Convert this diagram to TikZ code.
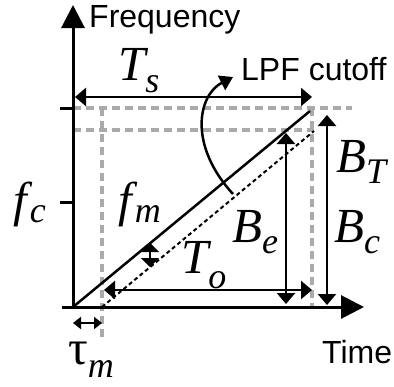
\documentclass[tikz,border=0pt]{standalone}
\usepackage{fontspec}
\setmainfont{Liberation Sans}
\newfontfamily\mfont{Liberation Serif}
\usetikzlibrary{arrows.meta}
\definecolor{guidegray}{HTML}{AAAAAA}
\newcommand\lab[3]{{\fontsize{49}{49}\selectfont\mfont\itshape #1}\raisebox{-#3}{\fontsize{36}{36}\selectfont\mfont\itshape #2}}
\begin{document}
\begin{tikzpicture}[x=1pt,y=-1pt,
  axis/.style={line width=3pt,-{Triangle[length=23pt,width=23pt]}},
  tick/.style={line width=3pt},
  dim/.style={line width=2.5pt,{Triangle[length=11pt,width=18pt]}-{Triangle[length=11pt,width=18pt]}},
  shortdim/.style={line width=2pt,{Triangle[length=9pt,width=18pt]}-{Triangle[length=9pt,width=18pt]}},
  smalldim/.style={line width=2pt,{Triangle[length=8pt,width=12pt]}-{Triangle[length=8pt,width=12pt]}},
  guide/.style={line width=3.5pt,guidegray,dash pattern=on 8pt off 5pt},
  chirp/.style={line width=2.5pt},
  echo/.style={line width=2pt,dash pattern=on 4pt off 3pt},
  pointer/.style={line width=2.5pt,-{Triangle[length=13pt,width=16pt]}},
  txt/.style={anchor=base west,inner sep=0pt,font=\fontsize{32}{32}\selectfont},
  lbl/.style={anchor=base west,inner sep=0pt}]
\useasboundingbox (0,0) rectangle (394,386);
% named coordinates
\coordinate (O) at (73,307);
\coordinate (Xl) at (62,307);
\coordinate (Xe) at (364,307);
\coordinate (Ye) at (73,5);
\coordinate (t1a) at (60,108); \coordinate (t1b) at (73,108);
\coordinate (t2a) at (60,202); \coordinate (t2b) at (73,202);
\coordinate (g1a) at (73,108); \coordinate (g1b) at (352,108);
\coordinate (g2a) at (73,130); \coordinate (g2b) at (314,130);
\coordinate (g3a) at (102,108); \coordinate (g3b) at (102,337);
\coordinate (g4a) at (312,108); \coordinate (g4b) at (312,307);
\coordinate (c1) at (310,111);
\coordinate (e0) at (102,307); \coordinate (e1) at (314,131);
\coordinate (tsa) at (75,97); \coordinate (tsb) at (312,97);
\coordinate (toa) at (104,290); \coordinate (tob) at (312,290);
\coordinate (bea) at (286,304); \coordinate (beb) at (286,133);
\coordinate (bca) at (327,305); \coordinate (bcb) at (327,115);
\coordinate (tma) at (73,323); \coordinate (tmb) at (102,323);
\coordinate (fma) at (150,243); \coordinate (fmb) at (150,267);
\coordinate (pa) at (233,194); \coordinate (pb) at (233,77);
% guides
\draw[guide] (g1a) -- (g1b);
\draw[guide] (g2a) -- (g2b);
\draw[guide] (g3a) -- (g3b);
\draw[guide] (g4a) -- (g4b);
% axes
\draw[axis] (Xl) -- (Xe);
\draw[axis] (O) -- (Ye);
\draw[tick] (t1a) -- (t1b);
\draw[tick] (t2a) -- (t2b);
% chirps
\draw[chirp] (O) -- (c1);
\draw[echo] (e0) -- (e1);
% dimensions
\draw[dim] (tsa) -- (tsb);
\draw[dim] (toa) -- (tob);
\draw[dim] (bea) -- (beb);
\draw[dim] (bca) -- (bcb);
\draw[shortdim] (fma) -- (fmb);
\draw[smalldim] (tma) -- (tmb);
\draw[pointer] (pa) .. controls (188,145) and (198,95) .. (pb);
% labels
\node[txt] (freq) at (89,27) {Frequency};
\node[txt] (lpf) at (241,80) {LPF cutoff};
\node[txt] (time) at (322,363) {Time};
\node[lbl] (Ts) at (118,80) {\lab{T}{s}{12pt}};
\node[lbl] (fc) at (13,216) {\lab{f\kern3pt}{c}{6pt}};
\node[lbl] (fm) at (118,216) {\lab{f\kern3pt}{m}{6pt}};
\node[lbl] (Be) at (232,242) {\lab{B}{e}{11pt}};
\node[lbl] (To) at (181,273) {\lab{T}{o}{15pt}};
\node[lbl] (Bc) at (334,242) {\lab{B}{c}{11pt}};
\node[lbl] (BT) at (336,172) {\lab{B}{T}{11pt}};
\node[lbl] (tm) at (68,364) {{\fontsize{49}{49}\selectfont\mfont τ}\raisebox{-13pt}{\fontsize{36}{36}\selectfont\mfont\itshape m}};
\end{tikzpicture}
\end{document}
